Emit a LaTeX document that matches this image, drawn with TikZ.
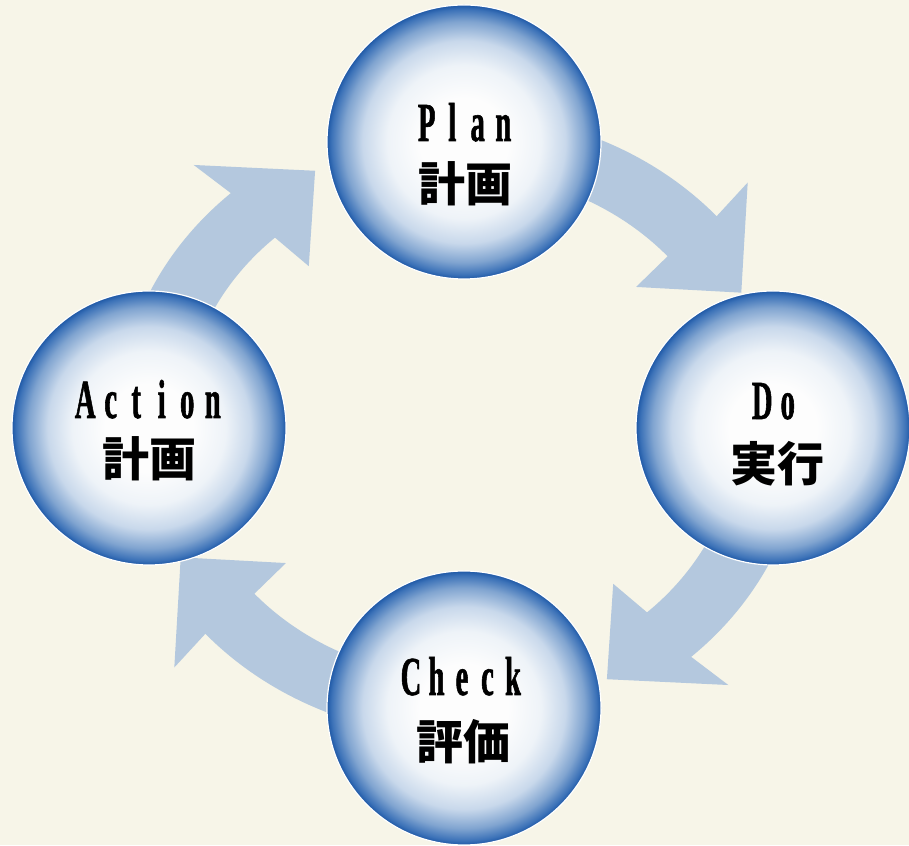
\documentclass[tikz,border=0pt]{standalone}
\usepackage{fontspec}
\newfontfamily\latfont[FakeStretch=0.52, FakeBold=1]{Liberation Serif Bold}
\newfontfamily\cjkfont{Noto Sans CJK JP}
\definecolor{bgcol}{RGB}{247,245,232}
\definecolor{arrcol}{RGB}{180,200,222}
\definecolor{sphA}{RGB}{253,253,253}
\definecolor{sphB}{RGB}{238,243,248}
\definecolor{sphC}{RGB}{200,216,235}
\definecolor{sphD}{RGB}{128,164,208}
\definecolor{sphE}{RGB}{60,114,184}
\definecolor{sphF}{RGB}{30,88,166}
\pgfdeclareradialshading{sphereshade}{\pgfpoint{0bp}{0bp}}{color(0bp)=(sphA); color(8bp)=(sphA); color(14bp)=(sphB); color(18.5bp)=(sphC); color(22bp)=(sphD); color(24.2bp)=(sphE); color(25bp)=(sphF); color(50bp)=(sphF)}
\newcommand{\ltr}[1]{\makebox[25.5pt]{#1}}
\tikzset{
  sphere/.style={circle, minimum size=274pt, inner sep=0pt, shading=sphereshade, draw=white, line width=1.2pt},
  latlbl/.style={anchor=base, inner sep=0pt, font=\latfont\fontsize{55}{58}\selectfont},
  jplbl/.style={anchor=base, inner sep=0pt, font=\cjkfont\bfseries\fontsize{47}{50}\selectfont},
  ringarrow/.style={fill=arrcol}
}
\begin{document}
\begin{tikzpicture}[x=1pt,y=1pt]
\fill[bgcol] (0,0) rectangle (909,845);
\useasboundingbox (0,0) rectangle (909,845);
% cycle arrows
\begin{scope}[shift={(461,420)}, yscale=0.907]
  \foreach \d in {0,-90,-180,-270} {
    \fill[ringarrow] ({\d+93}:278pt) arc[start angle=\d+93, end angle=\d+42, radius=278pt]
      -- ({\d+41}:232pt) -- ({\d+27.5}:316pt) -- ({\d+43}:392pt) -- ({\d+42}:344pt)
      arc[start angle=\d+42, end angle=\d+93, radius=344pt] -- cycle;
  }
\end{scope}
% spheres
\node[sphere] (plan) at (464,703) {};
\node[sphere] (do) at (773,417) {};
\node[sphere] (check) at (464,137) {};
\node[sphere] (action) at (149,417) {};
% labels
\node[latlbl] (planen) at (465,704) {\ltr{P}\ltr{l}\ltr{a}\ltr{n}};
\node[jplbl] (planjp) at (465,643) {計画};
\node[latlbl] (doen) at (775,426) {\ltr{D}\ltr{o}};
\node[jplbl] (dojp) at (777,363) {実行};
\node[latlbl] (actionen) at (149,427) {\ltr{A}\ltr{c}\ltr{t}\ltr{i}\ltr{o}\ltr{n}};
\node[jplbl] (actionjp) at (149,368) {計画};
\node[latlbl] (checken) at (462,150) {\ltr{C}\ltr{h}\ltr{e}\ltr{c}\ltr{k}};
\node[jplbl] (checkjp) at (463,85) {評価};
\end{tikzpicture}
\end{document}
